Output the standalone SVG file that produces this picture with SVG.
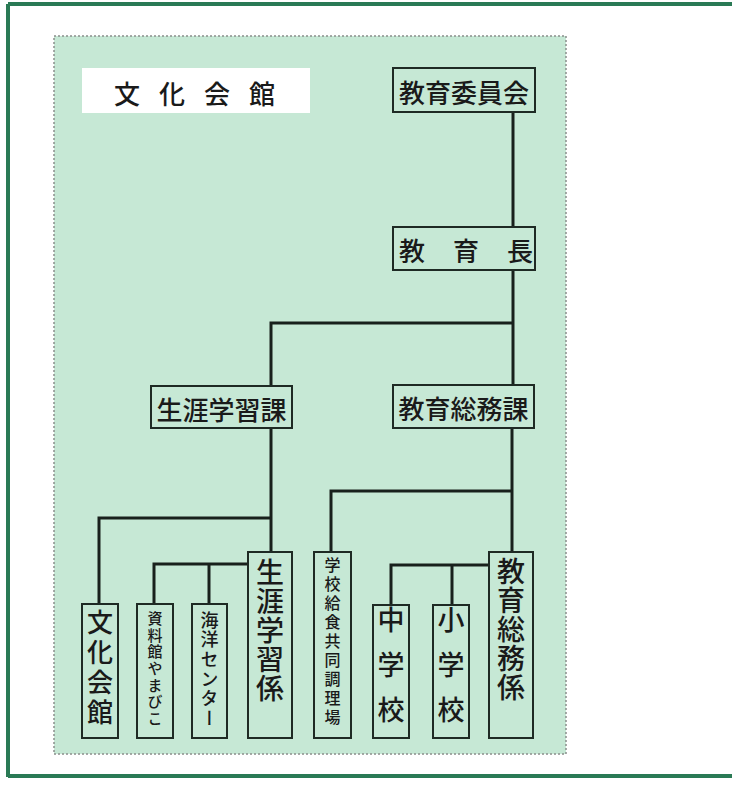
<svg xmlns="http://www.w3.org/2000/svg" width="732" height="787" viewBox="0 0 732 787">
<style>
.box{fill:none;stroke:#1e2a24;stroke-width:2}
.ln{fill:none;stroke:#18201c;stroke-width:3}
text{font-family:"Noto Sans CJK JP","Noto Sans CJK SC",sans-serif;fill:#1a1a1a;font-weight:500}
.h{font-size:26px;dominant-baseline:central}
.v{writing-mode:vertical-rl;text-orientation:upright}
</style>
<rect x="0" y="0" width="732" height="787" fill="#ffffff"/>
<g id="frame">
<path d="M8 4 H732 M8 4 V777 M8 776 H732" fill="none" stroke="#2a7a55" stroke-width="4"/>
</g>
<rect id="panel" x="54" y="36" width="512" height="718" fill="#c6e8d5" stroke="#8a8f8c" stroke-width="1.5" stroke-dasharray="2 2"/>
<g id="title">
<rect x="82" y="68" width="228" height="45" fill="#ffffff"/>
<text class="h" x="114" y="92" style="letter-spacing:19px">文化会館</text>
</g>
<g id="connectors">
<path class="ln" d="M513 112 V227"/>
<path class="ln" d="M513 270 V385"/>
<path class="ln" d="M513 323 H271 V386"/>
<path class="ln" d="M271 428 V552"/>
<path class="ln" d="M271 518 H99 V604"/>
<path class="ln" d="M248 564 H154 V604"/>
<path class="ln" d="M209 564 V604"/>
<path class="ln" d="M512 428 V552"/>
<path class="ln" d="M512 491 H331 V552"/>
<path class="ln" d="M489 565 H391 V605"/>
<path class="ln" d="M452 565 V605"/>
</g>
<g id="n-kyoiku-iinkai">
<rect class="box" x="393" y="68" width="142" height="44"/>
<text class="h" x="464" y="91" text-anchor="middle">教育委員会</text>
</g>
<g id="n-kyoikucho">
<rect class="box" x="393" y="227" width="142" height="43"/>
<text class="h" x="399" y="249" style="letter-spacing:28px">教育長</text>
</g>
<g id="n-shogai-gakushu-ka">
<rect class="box" x="151" y="386" width="141" height="42"/>
<text class="h" x="221.5" y="408" text-anchor="middle">生涯学習課</text>
</g>
<g id="n-kyoiku-somu-ka">
<rect class="box" x="393" y="385" width="141" height="43"/>
<text class="h" x="463.5" y="407" text-anchor="middle">教育総務課</text>
</g>
<g id="n-bunka-kaikan">
<rect class="box" x="82" y="604" width="36" height="134"/>
<text class="v" x="100" y="609" style="font-size:26px;letter-spacing:4px">文化会館</text>
</g>
<g id="n-yamabiko">
<rect class="box" x="137" y="604" width="36" height="134"/>
<text class="v" x="155" y="611" style="font-size:15px;letter-spacing:1.6px">資料館やまびこ</text>
</g>
<g id="n-kaiyo">
<rect class="box" x="192" y="604" width="35" height="134"/>
<text class="v" x="209.5" y="611" style="font-size:18px;letter-spacing:1.6px">海洋センター</text>
</g>
<g id="n-shogai-gakushu-kakari">
<rect class="box" x="248" y="552" width="44" height="186"/>
<text class="v" x="270" y="558" style="font-size:28px;letter-spacing:1px">生涯学習係</text>
</g>
<g id="n-kyushoku">
<rect class="box" x="314" y="552" width="37" height="186"/>
<text class="v" x="332.5" y="557" style="font-size:16px;letter-spacing:3px">学校給食共同調理場</text>
</g>
<g id="n-chugakko">
<rect class="box" x="373" y="605" width="36" height="133"/>
<text class="v" x="391" y="606" style="font-size:27px;letter-spacing:18px">中学校</text>
</g>
<g id="n-shogakko">
<rect class="box" x="433" y="605" width="36" height="133"/>
<text class="v" x="451" y="606" style="font-size:27px;letter-spacing:18px">小学校</text>
</g>
<g id="n-kyoiku-somu-kakari">
<rect class="box" x="489" y="552" width="44" height="186"/>
<text class="v" x="511" y="557" style="font-size:28px;letter-spacing:1px">教育総務係</text>
</g>
</svg>
